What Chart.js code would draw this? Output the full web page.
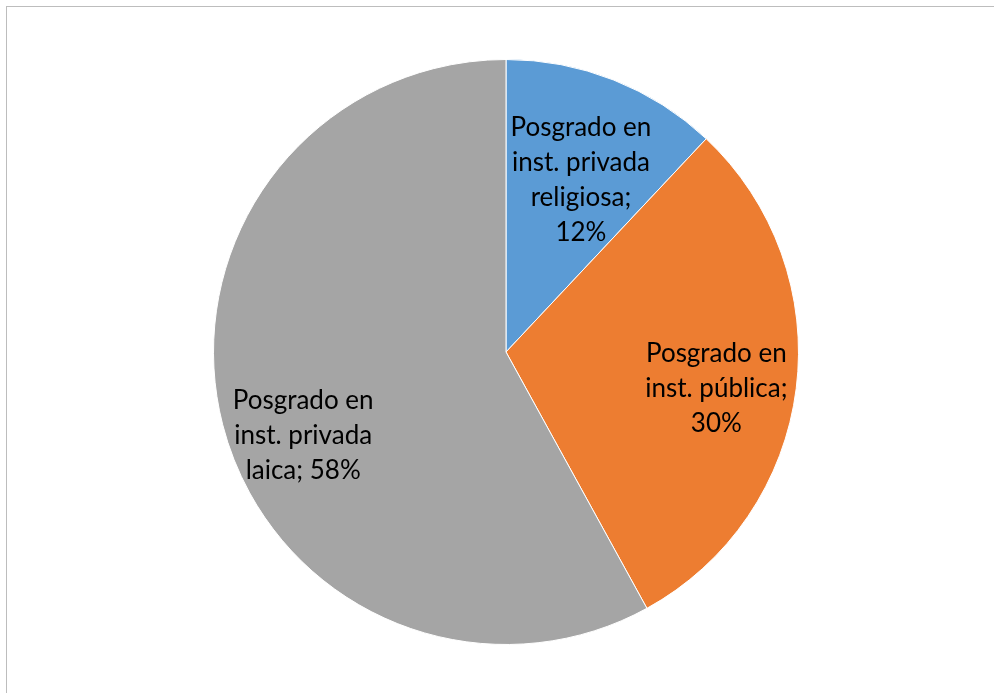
<!DOCTYPE html>
<html>
<head>
<meta charset="utf-8">
<script src="https://cdn.jsdelivr.net/npm/chart.js"></script>
<style>
  html, body { margin: 0; padding: 0; background: #fff; }
  #frame {
    position: absolute; left: 6px; top: 6px; width: 1000px; height: 700px;
    border-left: 1px solid #bdbdbd; border-top: 1px solid #bdbdbd;
  }
  #wrap { position: absolute; left: 0; top: 0; width: 994px; height: 693px; }
</style>
</head>
<body>
<div id="frame"></div>
<div id="wrap"><canvas id="pie"></canvas></div>
<script>
// slice data, clockwise from 12 o'clock
const categories = ["Posgrado en inst. privada religiosa", "Posgrado en inst. pública", "Posgrado en inst. privada laica"];
const shares = [12, 30, 58];
const sliceColors = ["#5B9BD5", "#ED7D31", "#A5A5A5"];

// data labels as they wrap in the picture
const labelLines = [
    ["Posgrado en", "inst. privada", "religiosa;", "12%"],
    ["Posgrado en", "inst. pública;", "30%"],
    ["Posgrado en", "inst. privada", "laica; 58%"]
];

// draws the wrapped label inside each slice
const sliceLabels = {
    id: "sliceLabels",
    afterDatasetsDraw(chart, args, opts) {
        const ctx = chart.ctx;
        const meta = chart.getDatasetMeta(0);
        ctx.save();
        ctx.font = opts.font;
        ctx.fillStyle = "#000";
        ctx.textAlign = "center";
        ctx.textBaseline = "middle";
        meta.data.forEach((arc, i) => {
            const p = arc.getProps(["x", "y", "startAngle", "endAngle", "outerRadius"], true);
            const mid = (p.startAngle + p.endAngle) / 2 + opts.angleShift[i] * Math.PI / 180;
            const r = p.outerRadius * opts.radiusFrac[i];
            const cx = p.x + Math.cos(mid) * r;
            const cy = p.y + Math.sin(mid) * r;
            const lines = labelLines[i];
            const top = cy - (lines.length - 1) * opts.lineHeight / 2;
            lines.forEach((t, k) => ctx.fillText(t, cx, top + k * opts.lineHeight));
        });
        ctx.restore();
    }
};

new Chart(document.getElementById("pie"), {
    type: "pie",
    data: {
        labels: categories,
        datasets: [{
            data: shares,
            backgroundColor: sliceColors,
            borderColor: "#fff",
            borderWidth: 1
        }]
    },
    options: {
        responsive: true,
        maintainAspectRatio: false,
        animation: false,
        layout: { padding: { top: 59, bottom: 48, left: 213, right: 195 } },
        plugins: {
            legend: { display: false },
            tooltip: { enabled: false },
            sliceLabels: {
                font: "26px Lato",
                lineHeight: 35,
                radiusFrac: [0.64, 0.73, 0.75],
                angleShift: [2, 2.7, -8]
            }
        }
    },
    plugins: [sliceLabels]
});
</script>
</body>
</html>
